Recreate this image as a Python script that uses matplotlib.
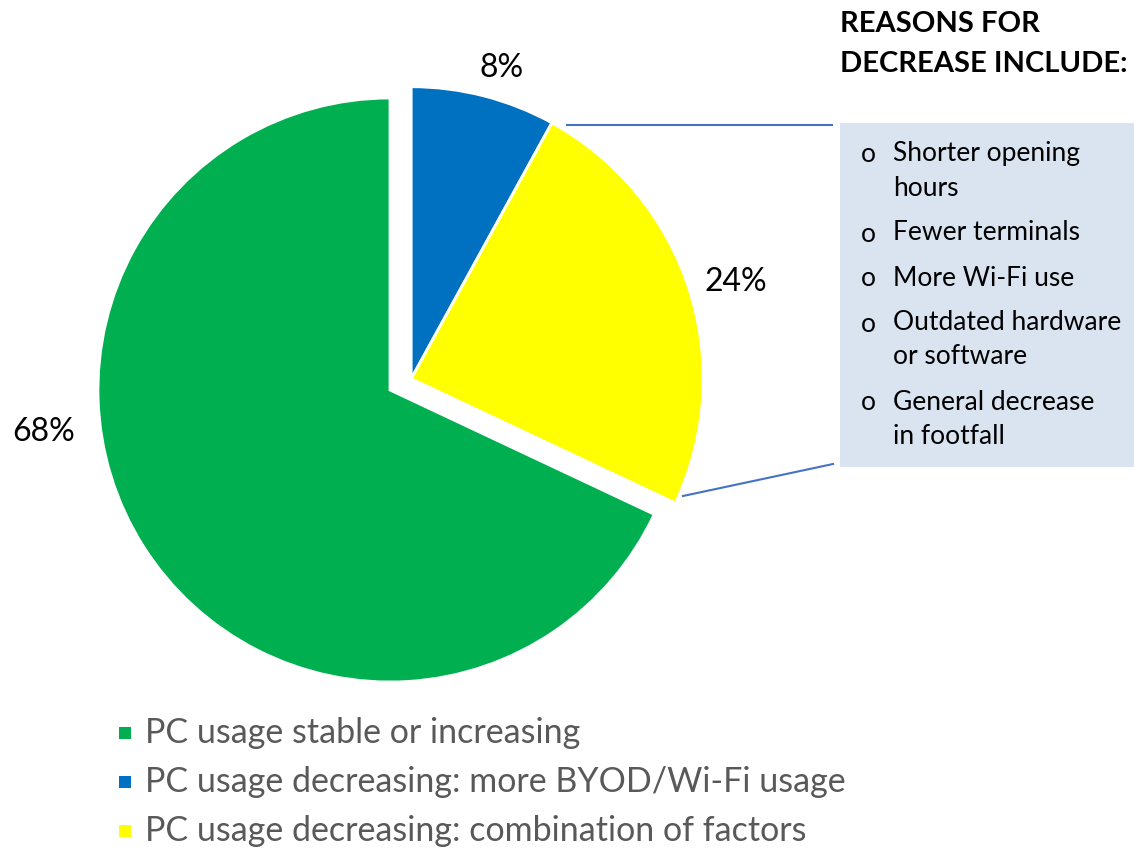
import matplotlib.pyplot as plt
from matplotlib.patches import Rectangle
import numpy as np

plt.rcParams['font.family'] = ['Lato', 'DejaVu Sans']

# survey shares, in legend order
categories = ['PC usage stable or increasing',
              'PC usage decreasing: more BYOD/Wi-Fi usage',
              'PC usage decreasing: combination of factors']
shares = [68, 8, 24]
colors = ['#00B050', '#0070C0', '#FFFF00']

reasons = [['Shorter opening', 'hours'],
           ['Fewer terminals'],
           ['More Wi-Fi use'],
           ['Outdated hardware', 'or software'],
           ['General decrease', 'in footfall']]

W, H = 1134, 851
fig = plt.figure(figsize=(W / 100, H / 100), dpi=100)
ax = fig.add_axes([0, 0, 1, 1])

def py(y):
    # work in image-style coords (y down)
    return H - y

cx, cy, r = 390, py(390), 292
decrease = sum(shares[1:])
start = 90 - decrease / 100 * 360
wedges, _ = ax.pie(shares, colors=colors, startangle=start, counterclock=False,
                   center=(cx, cy), radius=r, frame=True,
                   wedgeprops=dict(edgecolor='white', linewidth=2))

# pull the two "decreasing" slices out together
off_ang = np.deg2rad(28)
dx, dy = 24 * np.cos(off_ang), 24 * np.sin(off_ang)
for w in wedges[1:]:
    w.set_center((cx + dx, cy + dy))

ax.set_xlim(0, W)
ax.set_ylim(0, H)
ax.set_aspect('equal')
ax.axis('off')

# percentage labels
lbl_pos = [(44, 432), (502, 68), (736, 282)]
for v, (x, y) in zip(shares, lbl_pos):
    ax.text(x, py(y), f'{v}%', fontsize=23, ha='center', va='center', color='black')

# reasons box
ax.text(840, py(44), 'REASONS FOR\nDECREASE INCLUDE:', fontsize=21, fontweight='bold',
        ha='left', va='center', linespacing=1.65)
ax.add_patch(Rectangle((840, py(467)), W - 840, 467 - 123, facecolor='#DAE3F0',
                       edgecolor='none'))
ax.plot([567, 832], [py(125), py(125)], color='#4472C4', lw=1.5)
ax.plot([683, 833], [py(496), py(464)], color='#4472C4', lw=1.5)

y = 154
for item in reasons:
    ax.text(868, py(y + 1), 'o', fontsize=19, ha='center', va='center')
    for line in item:
        ax.text(893, py(y), line, fontsize=19, ha='left', va='center')
        y += 34
    y += 11

# legend
for i, (name, c) in enumerate(zip(categories, colors)):
    yy = 733 + i * 49
    ax.add_patch(Rectangle((119, py(yy + 6)), 12, 12, facecolor=c, edgecolor='none'))
    ax.text(145, py(yy), name, fontsize=24.5, ha='left', va='center', color='#595959')

fig.savefig('out.png', dpi=100)
